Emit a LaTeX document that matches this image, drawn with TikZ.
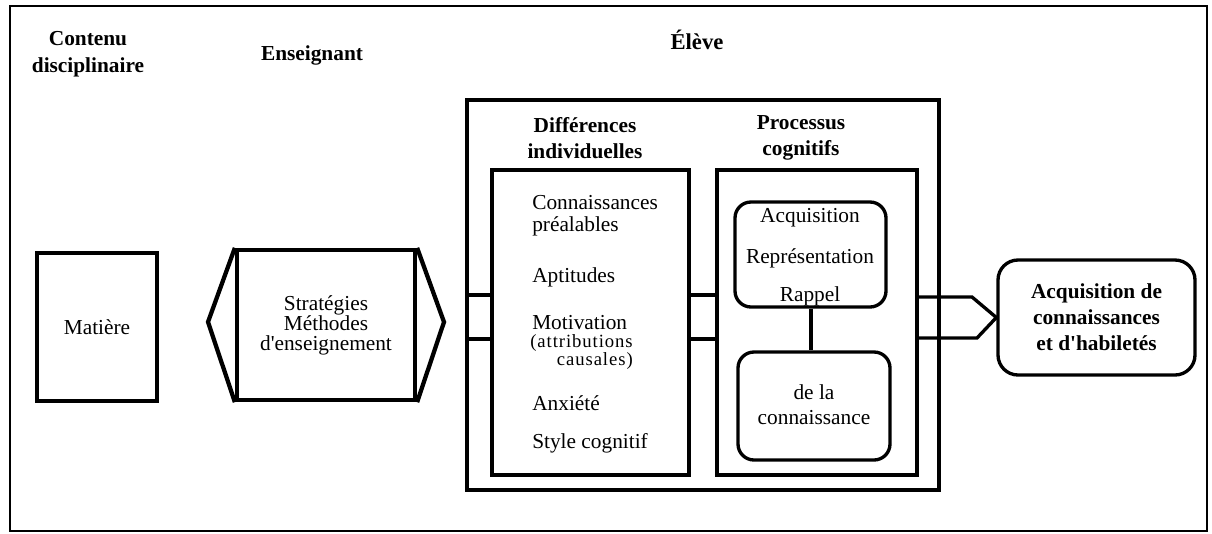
\documentclass[tikz,border=0pt]{standalone}
\usepackage{fontspec}
\setmainfont{Liberation Serif}
\begin{document}
\begin{tikzpicture}[x=0.75pt,y=-0.75pt,
  txt/.style={font=\fontsize{16}{19}\selectfont, align=center, inner sep=0pt},
  ttl/.style={font=\fontsize{16}{20}\selectfont\bfseries, align=center, inner sep=0pt},
  item/.style={font=\fontsize{16}{16.5}\selectfont, align=left, inner sep=0pt, anchor=west},
  box/.style={draw, line width=2.5pt, rectangle, inner sep=0pt},
  rbox/.style={draw, line width=2.5pt, rectangle, rounded corners=12pt, inner sep=0pt},
  band/.style={line width=2.5pt},
  hexline/.style={line width=3.2pt, line join=miter}]
\useasboundingbox (0,0) rectangle (1212,533);
\draw[line width=2.2pt] (10,6) rectangle (1207,531);

% column titles
\node[ttl] (tc) at (88,54) {Contenu\\disciplinaire};
\node[ttl] (te) at (312,55) {Enseignant};
\node[ttl, font=\fontsize{17}{20}\selectfont\bfseries] (tl) at (697,40) {Élève};

% Matiere
\node[box, minimum width=90pt, minimum height=111pt, txt] (M) at (97,327) {Matière};

% Enseignant hexagon
\node[box, line width=3.2pt, minimum width=133.5pt, minimum height=112.5pt, txt, font=\fontsize{16}{15}\selectfont] (H) at (326,325) {Stratégies\\Méthodes\\d\textquotesingle enseignement};
\coordinate (hl) at (208,322);
\coordinate (hr) at (444,322);
\draw[hexline] (H.north west) -- (hl) -- (H.south west);
\draw[hexline] (H.north east) -- (hr) -- (H.south east);

% Eleve box
\node[box, minimum width=354pt, minimum height=292.5pt] (E) at (703,295) {};
\node[box, minimum width=147.75pt, minimum height=228.75pt] (D) at (590.5,322.5) {};
\node[box, minimum width=150pt, minimum height=228.75pt] (P) at (817,322.5) {};
\node[ttl] (td) at (585,138) {Différences\\individuelles};
\node[ttl] (tp) at (801,138) {Processus\\cognitifs};

% bands
\draw[band] (E.west |- 0,295) -- (D.west |- 0,295);
\draw[band] (E.west |- 0,339) -- (D.west |- 0,339);
\draw[band] (D.east |- 0,295) -- (P.west |- 0,295);
\draw[band] (D.east |- 0,339) -- (P.west |- 0,339);

% individual differences list
\node[item] (i1) at (532,216) {Connaissances\\préalables};
\node[item] (i2) at (532,277) {Aptitudes};
\node[item] (i3) at (532,323) {Motivation};
\node[inner sep=0pt, anchor=north west, align=right, font=\fontsize{14}{11.5}\selectfont\addfontfeatures{LetterSpace=5}] (i3b) at (530,334) {(attributions\\causales)};
\node[item] (i4) at (532,403) {Anxiété};
\node[item] (i5) at (532,443) {Style cognitif};

% cognitive processes
\node[rbox, minimum width=113.25pt, minimum height=78.75pt] (A) at (810.5,254.5) {};
\node[rbox, minimum width=114pt, minimum height=81pt] (B) at (814,406) {};
\draw[band] (A.south -| 811,0) -- (B.north -| 811,0);
\node[txt] (a1) at (810,218) {Acquisition};
\node[txt] (a2) at (810,258) {Représentation};
\node[txt] (a3) at (810,296) {Rappel};
\node[txt] (b1) at (814,405) {de la\\connaissance};

% result
\node[rbox, rounded corners=15pt, minimum width=147.75pt, minimum height=86.25pt, ttl, font=\fontsize{16}{19.5}\selectfont\bfseries] (R) at (1096.5,317.5) {Acquisition de\\connaissances\\et d\textquotesingle habiletés};
\draw[band, line join=miter] (P.east |- 0,297) -- (972,297) -- (R.west) -- (977,338) -- (P.east |- 0,338);
\end{tikzpicture}
\end{document}
